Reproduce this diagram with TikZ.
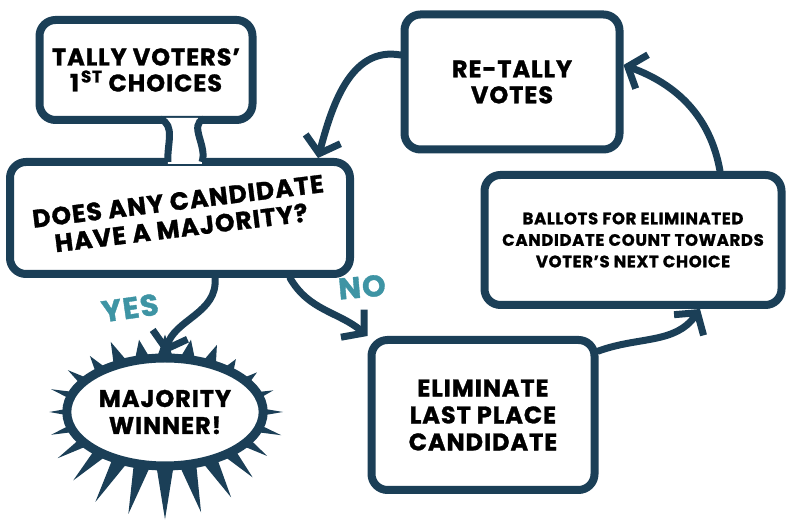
\documentclass[tikz,border=0pt]{standalone}
\usepackage{fontspec}
\setmainfont{Poppins}[BoldFeatures={FakeBold=1.2,LetterSpace=4}]
\usepackage{graphicx}
\usetikzlibrary{arrows.meta,calc,shapes.geometric}
\definecolor{navy}{HTML}{1B3F57}
\definecolor{yesno}{HTML}{3E94A4}

\begin{document}
\begin{tikzpicture}[x=1pt,y=1pt,
	bubble/.style={draw=navy,line width=8pt,rounded corners=16pt,fill=white,align=center,
	font=\bfseries\fontsize{24}{26}\selectfont},
	flow/.style={draw=navy,line width=7pt,line cap=round,-{Straight Barb[length=15pt,width=36pt]}},
	answer/.style={text=yesno,font=\bfseries\fontsize{30}{30}\selectfont\addfontfeature{LetterSpace=10}}]
\useasboundingbox (0,0) rectangle (800,526);
\node[bubble,minimum width=213pt,minimum height=100pt] (tally) at (146,456) {TALLY VOTERS’\\1\kern2pt\textsuperscript{ST} CHOICES};
\node[bubble,minimum width=340pt,minimum height=112pt,font=\bfseries\fontsize{25}{27}\selectfont] (quest) at (180,308)
	{\rotatebox{7}{\begin{tabular}{@{}c@{}}DOES ANY CANDIDATE\\HAVE A MAJORITY?\end{tabular}}};
\node[bubble,minimum width=215pt,minimum height=135pt] (retally) at (512,444) {RE-TALLY\\VOTES};
\node[bubble,minimum width=297pt,minimum height=130pt,font=\bfseries\fontsize{16.5}{21.5}\selectfont] (ballots) at (633,286)
	{BALLOTS FOR ELIMINATED\\CANDIDATE COUNT TOWARDS\\VOTER’S NEXT CHOICE};
\node[bubble,minimum width=223pt,minimum height=150pt,font=\bfseries\fontsize{24}{27}\selectfont] (elim) at (483,111)
	{ELIMINATE\\LAST PLACE\\CANDIDATE};
% spiky winner
\coordinate (wc) at (165,114);
\foreach \a/\f [evaluate=\f as \rx using 118*\f, evaluate=\f as \ry using 88*\f] in
	{0/1.0,15/0.95,30/0.9,45/0.85,60/0.88,75/0.85,90/0.88,105/0.85,120/0.92,135/0.9,150/0.95,165/1.0,
	180/0.98,195/1.0,210/1.05,225/1.1,240/1.18,255/1.2,270/1.22,285/1.18,300/1.12,315/1.05,330/1.0,345/1.02}
	\fill[navy] ($(wc)+({86*cos(\a-6)},{52*sin(\a-6)})$) -- ($(wc)+({\rx*cos(\a)},{\ry*sin(\a)})$)
	-- ($(wc)+({86*cos(\a+6)},{52*sin(\a+6)})$) -- cycle;
\node[ellipse,draw=navy,line width=9pt,fill=white,minimum width=178pt,minimum height=108pt,align=center,
	font=\bfseries\fontsize{24}{27}\selectfont] (win) at (wc) {MAJORITY\\WINNER!};
% neck between the first two boxes
\fill[white] ([xshift=20pt,yshift=6pt]tally.south) -- ([xshift=52pt,yshift=6pt]tally.south)
	-- ([xshift=22pt,yshift=-6pt]quest.north) -- ([xshift=-12pt,yshift=-6pt]quest.north) -- cycle;
\draw[navy,line width=7pt] ([xshift=14pt,yshift=5pt]tally.south) to[out=-20,in=95] ([xshift=-12pt,yshift=-4pt]quest.north);
\draw[navy,line width=7pt] ([xshift=58pt,yshift=5pt]tally.south) to[out=200,in=70] ([xshift=22pt,yshift=-4pt]quest.north);
% arrows
\draw[flow] ([xshift=35pt]quest.south) to[out=-85,in=75] (win.north);
\draw[flow] ([xshift=110pt]quest.south) to[out=-60,in=140] (elim.north west);
\draw[flow] ([yshift=-15pt]elim.north east) to[out=20,in=-125] ([xshift=67pt]ballots.south);
\draw[flow] ([xshift=87pt]ballots.north) to[out=100,in=-20] ([yshift=17pt]retally.east);
\draw[flow] ([yshift=27pt]retally.west) to[out=170,in=75] ([xshift=138pt]quest.north);
\node[answer,rotate=8] (yes) at (130,218) {YES};
\node[answer,rotate=5] (no) at (362,239) {NO};
\end{tikzpicture}
\end{document}
